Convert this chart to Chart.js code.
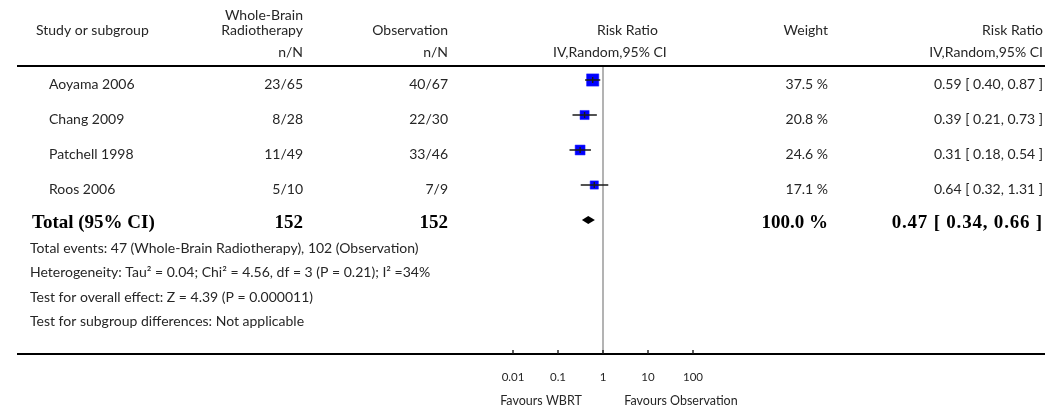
<!DOCTYPE html>
<html>
<head>
<meta charset="utf-8">
<title>Whole-Brain Radiotherapy vs Observation — Risk Ratio</title>
<script src="https://cdn.jsdelivr.net/npm/chart.js@4/dist/chart.umd.min.js"></script>
<style>
  html, body { margin: 0; padding: 0; background: #ffffff; }
  canvas { display: block; }
</style>
</head>
<body>
<canvas id="forest" width="1058" height="406"></canvas>
<script>
// Study rows
const studies = ['Aoyama 2006', 'Chang 2009', 'Patchell 1998', 'Roos 2006'];
const wbrtEvents = ['23/65', '8/28', '11/49', '5/10'];
const obsEvents = ['40/67', '22/30', '33/46', '7/9'];
const riskRatio = [0.59, 0.39, 0.31, 0.64];
const ciLower = [0.40, 0.21, 0.18, 0.32];
const ciUpper = [0.87, 0.73, 0.54, 1.31];
const weights = [37.5, 20.8, 24.6, 17.1];

// Pooled estimate
const totalRR = 0.47;
const totalLower = 0.34;
const totalUpper = 0.66;
const totalWbrt = 152;
const totalObs = 152;
const totalWeight = 100.0;

// Notes under the table
const footerLines = [
  'Total events: 47 (Whole-Brain Radiotherapy), 102 (Observation)',
  'Heterogeneity: Tau\u00B2 = 0.04; Chi\u00B2 = 4.56, df = 3 (P = 0.21); I\u00B2 =34%',
  'Test for overall effect: Z = 4.39 (P = 0.000011)',
  'Test for subgroup differences: Not applicable'
];

// Log axis
const axisTicks = [0.01, 0.1, 1, 10, 100];
const axisTickLabels = ['0.01', '0.1', '1', '10', '100'];
const favourLeft = 'Favours WBRT';
const favourRight = 'Favours Observation';

// ---- layout ----
const W = 1058, H = 406;
const PLOT_LEFT = 513, PLOT_RIGHT = 693, RULE_TOP = 66, RULE_BOTTOM = 354;
const RULE_X0 = 17, RULE_X1 = 1045;
const COL = { study: 49, total: 32, notes: 30, wbrt: 303, obs: 448, weight: 828, rr: 1043 };
const TEXT = '#262626';
const SANS = 'Lato, "Open Sans", sans-serif';
const BODY_FONT = '14px ' + SANS;
const SERIF_BOLD = 'bold 19px "Liberation Serif", "DejaVu Serif", serif';

const fmt = v => v.toFixed(2);
const ciText = (m, lo, hi) => `${fmt(m)} [ ${fmt(lo)}, ${fmt(hi)} ]`;

// Row positions on the (reversed) y scale: studies 1..4, total 5, notes after
const rowIndex = studies.map((_, i) => i + 1);
const totalRow = studies.length + 1;
const noteRows = [5.8, 6.5, 7.2, 7.9];

const forestPlugin = {
  id: 'forestTable',
  beforeDatasetsDraw(chart) {
    const { ctx, chartArea, scales: { x } } = chart;
    const px = x.getPixelForValue(1);
    ctx.save();
    ctx.strokeStyle = '#9a9a9a';
    ctx.lineWidth = 1.5;
    ctx.beginPath();
    ctx.moveTo(px, chartArea.top);
    ctx.lineTo(px, chartArea.bottom);
    ctx.stroke();
    ctx.restore();
  },
  afterDatasetsDraw(chart) {
    const { ctx, scales: { x, y } } = chart;
    ctx.save();

    // Confidence intervals with a small tick at each estimate
    ctx.strokeStyle = '#1a1a1a';
    ctx.lineWidth = 1.4;
    riskRatio.forEach((rr, i) => {
      const py = y.getPixelForValue(rowIndex[i]);
      const x0 = x.getPixelForValue(ciLower[i]);
      const x1 = x.getPixelForValue(ciUpper[i]);
      const xm = x.getPixelForValue(rr);
      ctx.beginPath();
      ctx.moveTo(x0, py); ctx.lineTo(x1, py);
      ctx.moveTo(xm, py - 3); ctx.lineTo(xm, py + 3);
      ctx.stroke();
    });

    // Pooled diamond
    {
      const py = y.getPixelForValue(totalRow);
      const xl = x.getPixelForValue(totalLower);
      const xm = x.getPixelForValue(totalRR);
      const xr = x.getPixelForValue(totalUpper);
      ctx.fillStyle = '#000000';
      ctx.beginPath();
      ctx.moveTo(xl, py);
      ctx.lineTo(xm, py - 4);
      ctx.lineTo(xr, py);
      ctx.lineTo(xm, py + 4);
      ctx.closePath();
      ctx.fill();
    }

    // Horizontal rules
    ctx.strokeStyle = '#000000';
    ctx.lineWidth = 2;
    ctx.beginPath();
    ctx.moveTo(RULE_X0, RULE_TOP); ctx.lineTo(RULE_X1, RULE_TOP);
    ctx.moveTo(RULE_X0, RULE_BOTTOM); ctx.lineTo(RULE_X1, RULE_BOTTOM);
    ctx.stroke();

    // Axis ticks and labels
    ctx.lineWidth = 1.4;
    ctx.strokeStyle = '#1a1a1a';
    ctx.fillStyle = TEXT;
    ctx.font = '11.5px ' + SANS;
    ctx.textAlign = 'center';
    ctx.textBaseline = 'middle';
    axisTicks.forEach((t, i) => {
      const px = x.getPixelForValue(t);
      ctx.beginPath();
      ctx.moveTo(px, RULE_BOTTOM - 4); ctx.lineTo(px, RULE_BOTTOM);
      ctx.stroke();
      ctx.fillText(axisTickLabels[i], px, 377);
    });
    ctx.font = '12.5px ' + SANS;
    ctx.fillText(favourLeft, 541, 401);
    ctx.fillText(favourRight, 681, 401);

    // Header
    ctx.font = BODY_FONT;
    ctx.textAlign = 'left';
    ctx.fillText('Study or subgroup', 36, 30);
    ctx.fillText('Risk Ratio', 597, 30);
    ctx.fillText('IV,Random,95% CI', 553, 52);
    ctx.textAlign = 'right';
    ctx.fillText('Whole-Brain', COL.wbrt, 15);
    ctx.fillText('Radiotherapy', COL.wbrt, 30);
    ctx.fillText('n/N', COL.wbrt, 52);
    ctx.fillText('Observation', COL.obs, 30);
    ctx.fillText('n/N', COL.obs, 52);
    ctx.fillText('Weight', COL.weight, 30);
    ctx.fillText('Risk Ratio', COL.rr, 30);
    ctx.fillText('IV,Random,95% CI', COL.rr, 52);

    // Study rows
    studies.forEach((name, i) => {
      const py = y.getPixelForValue(rowIndex[i]) + 4;
      ctx.textAlign = 'left';
      ctx.fillText(name, COL.study, py);
      ctx.textAlign = 'right';
      ctx.fillText(wbrtEvents[i], COL.wbrt, py);
      ctx.fillText(obsEvents[i], COL.obs, py);
      ctx.fillText(weights[i].toFixed(1) + ' %', COL.weight, py);
      ctx.fillText(ciText(riskRatio[i], ciLower[i], ciUpper[i]), COL.rr, py);
    });

    // Total row
    {
      const py = y.getPixelForValue(totalRow) + 3;
      ctx.font = SERIF_BOLD;
      ctx.fillStyle = '#000000';
      ctx.textAlign = 'left';
      ctx.fillText('Total (95% CI)', COL.total, py);
      ctx.textAlign = 'right';
      ctx.fillText(String(totalWbrt), COL.wbrt, py);
      ctx.fillText(String(totalObs), COL.obs, py);
      ctx.fillText(totalWeight.toFixed(1) + ' %', COL.weight, py);
      ctx.letterSpacing = '0.8px';
      ctx.fillText(ciText(totalRR, totalLower, totalUpper), COL.rr, py);
      ctx.letterSpacing = '0px';
    }

    // Notes
    ctx.font = BODY_FONT;
    ctx.fillStyle = TEXT;
    ctx.textAlign = 'left';
    footerLines.forEach((line, i) => {
      ctx.fillText(line, COL.notes, y.getPixelForValue(noteRows[i]));
    });

    ctx.restore();
  }
};

new Chart(document.getElementById('forest'), {
  type: 'scatter',
  data: {
    datasets: [{
      label: 'Risk Ratio',
      data: riskRatio.map((rr, i) => ({ x: rr, y: rowIndex[i] })),
      pointStyle: 'rect',
      // square side grows with the square root of the study weight
      pointRadius: weights.map(w => 2 * Math.sqrt(w) / Math.SQRT2),
      backgroundColor: '#0000ff',
      borderColor: '#1a1aff',
      borderWidth: 0.5
    }]
  },
  options: {
    responsive: false,
    animation: false,
    events: [],
    layout: {
      padding: { left: PLOT_LEFT, right: W - PLOT_RIGHT, top: RULE_TOP, bottom: H - RULE_BOTTOM }
    },
    scales: {
      x: { type: 'logarithmic', min: 0.01, max: 100, display: false },
      y: { type: 'linear', min: 0.6, max: 0.6 + (RULE_BOTTOM - RULE_TOP) / 35, reverse: true, display: false }
    },
    plugins: {
      legend: { display: false },
      tooltip: { enabled: false }
    },
    clip: false
  },
  plugins: [forestPlugin]
});
</script>
</body>
</html>
